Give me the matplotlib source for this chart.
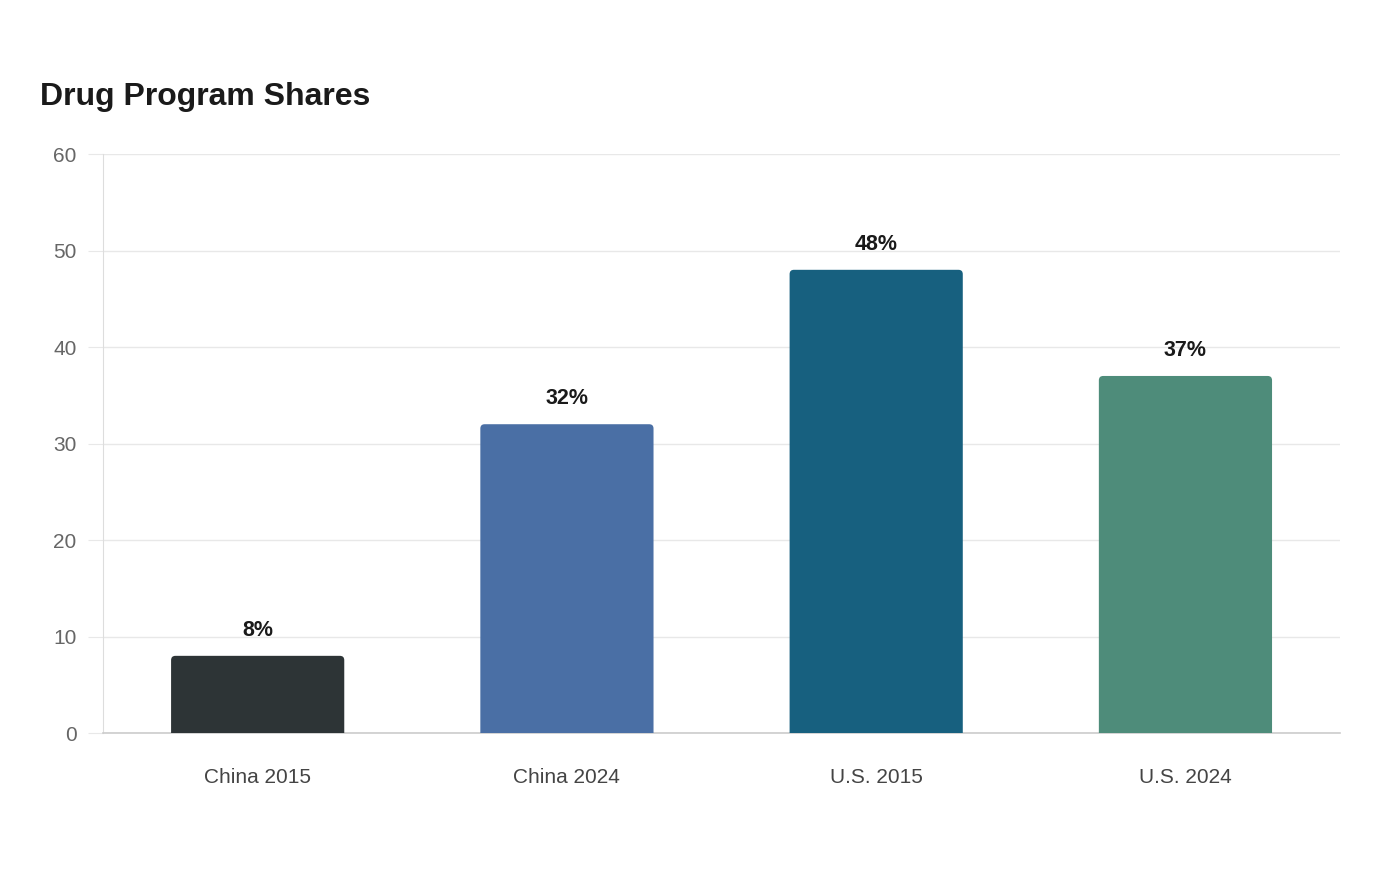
import matplotlib.pyplot as plt
from matplotlib.patches import FancyBboxPatch

plt.rcParams['font.family'] = ['Liberation Sans', 'DejaVu Sans']

# data
categories = ["China 2015", "China 2024", "U.S. 2015", "U.S. 2024"]
shares = [8, 32, 48, 37]
colors = ["#2d3436", "#4a6fa5", "#17607f", "#4e8c7a"]

fig = plt.figure(figsize=(14, 8.8), dpi=100)
ax = fig.add_axes([0.0736, 0.167, 0.8836, 0.658])

x = range(len(categories))
bars = ax.bar(x, shares, width=0.56, color=colors)
ax.set_xlim(-0.5, len(categories) - 0.5)
ax.set_ylim(0, 60)

# swap plain bars for ones with rounded tops
aspect = (60 / 579) / (4 / 1237)
for rect, c in zip(bars, colors):
    bx, bw, bh = rect.get_x(), rect.get_width(), rect.get_height()
    rect.set_visible(False)
    p = FancyBboxPatch((bx, -2), bw, bh + 2,
                       boxstyle="round,pad=0,rounding_size=0.014",
                       mutation_aspect=aspect, facecolor=c, edgecolor="none",
                       clip_on=True, zorder=3)
    ax.add_patch(p)

for xi, v in zip(x, shares):
    ax.annotate(f"{v}%", (xi, v), xytext=(0, 18.5), textcoords="offset points",
                ha="center", va="center", fontsize=15.5, fontweight="bold",
                color="#1a1a1a")

ax.set_yticks(range(0, 61, 10))
ax.set_xticks(list(x))
ax.set_xticklabels(categories)
ax.grid(axis="y", color="#e8e8e8", linewidth=1)
ax.set_axisbelow(True)
for s in ["top", "right"]:
    ax.spines[s].set_visible(False)
ax.spines["left"].set_color("#dddddd")
ax.spines["bottom"].set_color("#cccccc")
ax.spines["bottom"].set_linewidth(1.2)
ax.tick_params(axis="y", length=11, color="#e8e8e8", labelsize=15,
               labelcolor="#666666", pad=8)
ax.tick_params(axis="x", length=0, labelsize=15, labelcolor="#444444", pad=25)

fig.text(40 / 1400, 1 - 97 / 880, "Drug Program Shares", fontsize=23,
         fontweight="bold", color="#1a1a1a", ha="left", va="center")

fig.savefig("out.png", dpi=100, facecolor="white")
